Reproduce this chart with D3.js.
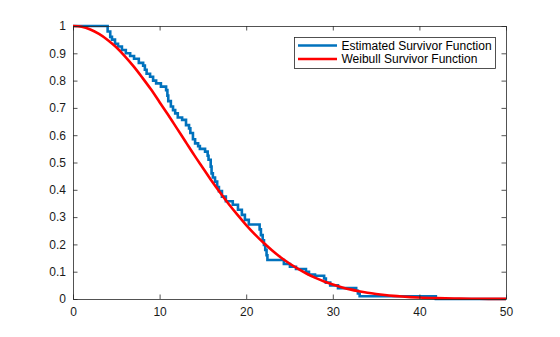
<!DOCTYPE html>
<html><head><meta charset="utf-8">
<script src="https://cdn.jsdelivr.net/npm/d3@7"></script>
<style>html,body{margin:0;padding:0;background:#fff;}svg{display:block;}</style>
</head><body>
<script>
// Kaplan–Meier estimate: step times and survival after each step
const kmTimes = [0, 4.0, 4.3, 4.5, 4.85, 5.2, 5.65, 6.1, 6.6, 7.05, 7.6, 8.1, 8.3, 8.5, 8.9, 9.25, 9.6, 10.15, 10.75, 10.9, 11.0, 11.3, 11.55, 11.8, 12.1, 12.6, 13.05, 13.4, 13.55, 13.85, 14.1, 14.45, 14.65, 15.25, 15.55, 15.65, 15.9, 16.0, 16.15, 16.4, 16.65, 16.85, 17.2, 17.65, 18.45, 19.05, 19.5, 19.85, 20.3, 21.55, 21.7, 21.9, 22.05, 22.2, 22.35, 22.45, 24.35, 25.05, 25.75, 26.9, 27.25, 27.95, 29.0, 29.2, 29.7, 30.6, 32.7, 32.9, 33.1, 41.9, 50];
const kmSurv  = [1, 0.98, 0.96, 0.95, 0.935, 0.925, 0.912, 0.90, 0.89, 0.88, 0.865, 0.855, 0.84, 0.825, 0.814, 0.80, 0.79, 0.778, 0.765, 0.745, 0.725, 0.705, 0.692, 0.68, 0.665, 0.656, 0.637, 0.625, 0.608, 0.585, 0.57, 0.56, 0.55, 0.54, 0.525, 0.51, 0.485, 0.46, 0.445, 0.43, 0.41, 0.395, 0.375, 0.358, 0.345, 0.327, 0.308, 0.29, 0.273, 0.255, 0.234, 0.215, 0.198, 0.18, 0.16, 0.143, 0.128, 0.118, 0.11, 0.10, 0.09, 0.085, 0.075, 0.06, 0.05, 0.04, 0.03, 0.02, 0.01, 0.0, 0.0];
// Weibull survivor curve, values read at sample times
const wbTimes = [0,1,2,3,4,5,6,7,8,9,10,11,12,13,14,15,16,17,18,19,20,21,22,23,24,25,26,27,28,29,30,31,32,33,34,35,36,37,38,39,40,42,44,46,48,50];
const wbSurv  = [1,0.997,0.987,0.971,0.949,0.922,0.889,0.852,0.811,0.768,0.721,0.674,0.625,0.576,0.527,0.480,0.433,0.389,0.347,0.308,0.271,0.237,0.206,0.178,0.152,0.130,0.110,0.0925,0.0773,0.0642,0.0529,0.0434,0.0353,0.0286,0.0229,0.0183,0.0145,0.0114,0.009,0.007,0.0054,0.0032,0.0018,0.001,0.0005,0.0003];
const xTicks = [0,10,20,30,40,50];
const yTicks = [0,0.1,0.2,0.3,0.4,0.5,0.6,0.7,0.8,0.9,1];
const legendLabels = ["Estimated Survivor Function","Weibull Survivor Function"];
const colors = ["#0072BD","#FF0000"];

const W = 560, H = 337;
const m = {left:73, right:54, top:26, bottom:38};
const svg = d3.select("body").append("svg").attr("width",W).attr("height",H);
const x = d3.scaleLinear().domain([0,50]).range([m.left, W-m.right]);
const y = d3.scaleLinear().domain([0,1]).range([H-m.bottom, m.top]);
const font = "'Liberation Sans', Arial, Helvetica, sans-serif";
const axisColor = "#262626";

const km = kmTimes.map((t,i)=>[t,kmSurv[i]]);
const wb = wbTimes.map((t,i)=>[t,wbSurv[i]]);

svg.append("path").datum(km)
  .attr("d", d3.line().x(d=>x(d[0])).y(d=>y(d[1])).curve(d3.curveStepAfter))
  .attr("fill","none").attr("stroke",colors[0]).attr("stroke-width",2.6).attr("stroke-linejoin","miter");
svg.append("path").datum(wb)
  .attr("d", d3.line().x(d=>x(d[0])).y(d=>y(d[1])).curve(d3.curveMonotoneX))
  .attr("fill","none").attr("stroke",colors[1]).attr("stroke-width",2.6);

const tl = 4.5;
const gx = svg.append("g").attr("transform",`translate(0,${y(0)})`)
  .call(d3.axisBottom(x).tickValues(xTicks).tickSizeInner(-tl).tickSizeOuter(0).tickPadding(8));
const gxt = svg.append("g").attr("transform",`translate(0,${y(1)})`)
  .call(d3.axisTop(x).tickValues(xTicks).tickSizeInner(-tl).tickSizeOuter(0).tickFormat(""));
const gy = svg.append("g").attr("transform",`translate(${x(0)},0)`)
  .call(d3.axisLeft(y).tickValues(yTicks).tickSizeInner(-tl).tickSizeOuter(0).tickPadding(7).tickFormat(d3.format("~g")));
const gyr = svg.append("g").attr("transform",`translate(${x(50)},0)`)
  .call(d3.axisRight(y).tickValues(yTicks).tickSizeInner(-tl).tickSizeOuter(0).tickFormat(""));
[gx,gxt,gy,gyr].forEach(g=>{
  g.selectAll("path").attr("stroke",axisColor).attr("stroke-width",0.8);
  g.selectAll("line").attr("stroke",axisColor).attr("stroke-width",0.8);
  g.selectAll("text").attr("fill","#1a1a1a").style("font-family",font).style("font-size","12px");
});

// legend
const lx = 294, ly = 37, lw = 201, lh = 31;
const lg = svg.append("g");
lg.append("rect").attr("x",lx+0.5).attr("y",ly+0.5).attr("width",lw).attr("height",lh)
  .attr("fill","#fff").attr("stroke",axisColor).attr("stroke-width",0.8);
legendLabels.forEach((lab,i)=>{
  const yy = ly + 8.5 + i*13.5;
  lg.append("line").attr("x1",lx+4).attr("x2",lx+43).attr("y1",yy).attr("y2",yy)
    .attr("stroke",colors[i]).attr("stroke-width",2.6);
  lg.append("text").attr("x",lx+47.5).attr("y",yy).attr("dy","0.35em")
    .style("font-family",font).style("font-size","12px").attr("fill","#000").text(lab);
});
</script>
</body></html>
